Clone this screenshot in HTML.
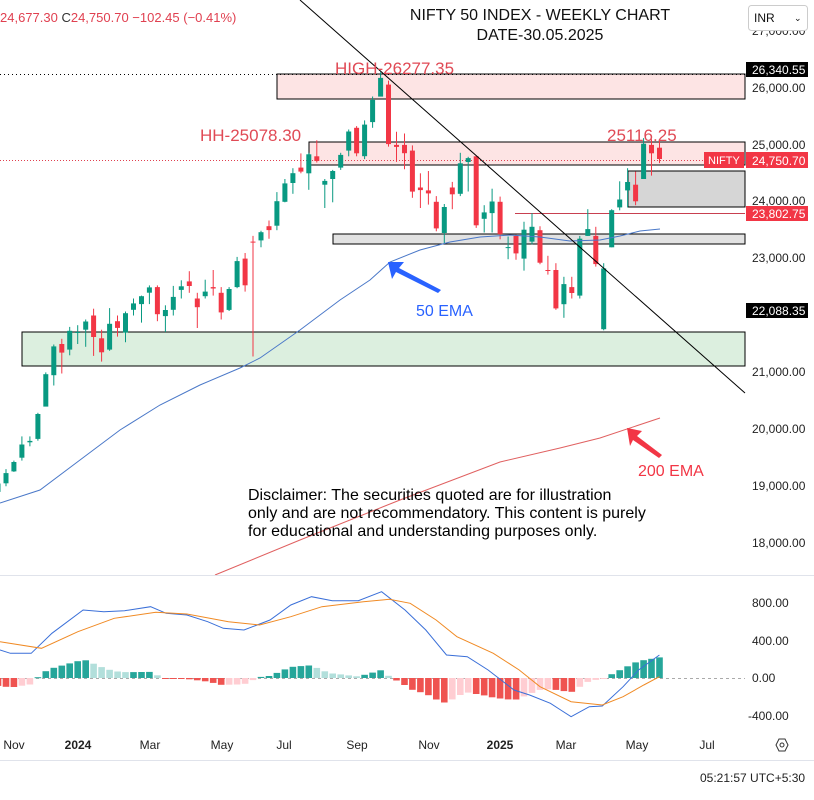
<!DOCTYPE html>
<html><head><meta charset="utf-8"><style>
body{margin:0;background:#fff;}
svg text{font-family:"Liberation Sans",sans-serif;}
</style></head><body>
<svg id="s" width="814" height="795" xmlns="http://www.w3.org/2000/svg">
<rect width="814" height="795" fill="#fff"/>
<g id="zones">
<rect x="277" y="74" width="468" height="25" fill="#fde4e4" stroke="#000" stroke-width="1"/>
<rect x="309" y="142" width="436" height="23" fill="#fde4e4" stroke="#000" stroke-width="1"/>
<rect x="628" y="171" width="117" height="36" fill="#d6d6d6" stroke="#000" stroke-width="1"/>
<rect x="333" y="234" width="412" height="10" fill="#e2e2e2" stroke="#000" stroke-width="1"/>
<rect x="22" y="332" width="723" height="34" fill="#dcefdf" stroke="#000" stroke-width="1"/>
<line x1="0" y1="74.5" x2="745" y2="74.5" stroke="#000" stroke-dasharray="1,3"/>
<line x1="0" y1="160.5" x2="745" y2="160.5" stroke="#e04050" stroke-dasharray="1,2"/>
<line x1="515" y1="213.5" x2="745" y2="213.5" stroke="#c84050" stroke-width="1"/>
</g>
<g id="c"></g>
<polyline fill="none" stroke="#4a78c8" stroke-width="1" points="0,503 40,490 80,460 120,430 160,405 200,385 240,368 260,358 300,330 340,300 370,280 390,262 420,250 450,242 480,237 510,235 540,237 570,241 600,240 620,236 640,231 660,229"/>
<polyline fill="none" stroke="#e06060" stroke-width="1" points="215,575 300,540 400,500 500,462 560,448 600,438 660,418"/>
<line x1="300" y1="0" x2="745" y2="393" stroke="#000" stroke-width="1"/>
<polygon points="388,262 404,262 399,268 441,290 438,293 396,272 392,279" fill="#2962ff"/>
<polygon points="627,428 642,431 637,436 662,455 659,458 633,440 630,446" fill="#f23645"/>
<text x="416" y="316" font-size="16" fill="#2962ff">50 EMA</text>
<text x="638" y="476" font-size="16" fill="#f23645">200 EMA</text>
<text x="335" y="74" font-size="17" fill="#e04a55">HIGH-26277.35</text>
<text x="200" y="141" font-size="17" fill="#e04a55">HH-25078.30</text>
<text x="607" y="141" font-size="17" fill="#e04a55">25116.25</text>
<text x="540" y="20" font-size="16" text-anchor="middle" fill="#111">NIFTY 50 INDEX - WEEKLY CHART</text>
<text x="540" y="40" font-size="16" text-anchor="middle" fill="#111">DATE-30.05.2025</text>
<text x="0" y="22" font-size="13" fill="#e04050">24,677.30 <tspan fill="#333">C</tspan>24,750.70 −102.45 (−0.41%)</text>
<text x="248" y="500" font-size="16" fill="#000">Disclaimer: The securities quoted are for illustration</text>
<text x="248" y="518" font-size="16" fill="#000">only and are not recommendatory. This content is purely</text>
<text x="248" y="536" font-size="16" fill="#000">for educational and understanding purposes only.</text>
<g font-size="12" fill="#222">
<text x="752" y="35">27,000.00</text>
<text x="752" y="92">26,000.00</text>
<text x="752" y="149">25,000.00</text>
<text x="752" y="205">24,000.00</text>
<text x="752" y="262">23,000.00</text>
<text x="752" y="376">21,000.00</text>
<text x="752" y="433">20,000.00</text>
<text x="752" y="490">19,000.00</text>
<text x="752" y="547">18,000.00</text>
<text x="752" y="607">800.00</text>
<text x="752" y="645">400.00</text>
<text x="752" y="682">0.00</text>
<text x="748" y="720">-400.00</text>
</g>
<rect x="746" y="62" width="62" height="15" fill="#000"/><text x="752" y="74" font-size="12" fill="#fff">26,340.55</text>
<rect x="704" y="152" width="40" height="16" fill="#f23645"/><text x="708" y="164" font-size="11" fill="#fff">NIFTY</text>
<rect x="746" y="152" width="62" height="16" fill="#f23645"/><text x="752" y="165" font-size="12" fill="#fff">24,750.70</text>
<rect x="746" y="206" width="62" height="15" fill="#f23645"/><text x="752" y="218" font-size="12" fill="#fff">23,802.75</text>
<rect x="746" y="303" width="62" height="15" fill="#000"/><text x="752" y="315" font-size="12" fill="#fff">22,088.35</text>
<rect x="748.5" y="5.5" width="59" height="25" rx="3" fill="#fff" stroke="#ccc"/>
<text x="754" y="22" font-size="12" fill="#111">INR</text><text x="794" y="21" font-size="9" fill="#111">⌄</text>
<line x1="0" y1="575.5" x2="814" y2="575.5" stroke="#e0e3eb"/>
<line x1="0" y1="678.5" x2="745" y2="678.5" stroke="#aaa" stroke-dasharray="3,3"/>
<g id="h"></g>
<polyline id="mb" fill="none" stroke="#3a6fd8" stroke-width="1"/>
<polyline id="ms" fill="none" stroke="#f08a24" stroke-width="1"/>
<line x1="0" y1="760.5" x2="814" y2="760.5" stroke="#e0e3eb"/>
<g font-size="12" fill="#222">
<text x="14" y="749" text-anchor="middle">Nov</text>
<text x="78" y="749" text-anchor="middle" font-weight="bold">2024</text>
<text x="150" y="749" text-anchor="middle">Mar</text>
<text x="222" y="749" text-anchor="middle">May</text>
<text x="284" y="749" text-anchor="middle">Jul</text>
<text x="357" y="749" text-anchor="middle">Sep</text>
<text x="429" y="749" text-anchor="middle">Nov</text>
<text x="500" y="749" text-anchor="middle" font-weight="bold">2025</text>
<text x="566" y="749" text-anchor="middle">Mar</text>
<text x="637" y="749" text-anchor="middle">May</text>
<text x="707" y="749" text-anchor="middle">Jul</text>
<text x="700" y="782">05:21:57 UTC+5:30</text>
</g>
<polygon points="781,739 785,739 788,745 785,751 779,751 776,745 779,739" fill="none" stroke="#333"/>
<circle cx="782" cy="745" r="2" fill="none" stroke="#333"/>
</svg>
<script>
var D=[[18900,19100,18837,19047],[19050,19300,19000,19230],[19260,19450,19250,19425],[19500,19875,19450,19732],[19770,19875,19700,19795],[19830,20290,19800,20268],[20400,21000,20400,20969],[20950,21490,20770,21457],[21500,21590,20980,21349],[21400,21800,21300,21731],[21700,21830,21500,21711],[21750,21930,21450,21895],[22000,22120,21290,21622],[21600,21750,21190,21353],[21400,22130,21380,21854],[21900,22000,21630,21783],[21700,22070,21530,22041],[22100,22300,22000,22213],[22200,22350,21875,22339],[22400,22530,22200,22494],[22500,22530,21900,22023],[21990,22180,21710,22097],[22100,22520,22000,22327],[22450,22620,22300,22514],[22600,22780,22400,22519],[22300,22400,21780,22147],[22340,22630,22300,22420],[22500,22800,22350,22476],[22400,22500,21930,22055],[22100,22500,22080,22467],[22500,23030,22480,22957],[23000,23100,22420,22531],[23300,23400,21280,23290],[23320,23490,23200,23465],[23570,23670,23350,23501],[23580,24170,23500,24010],[24000,24400,23990,24323],[24330,24590,24140,24502],[24600,24850,24500,24530],[24500,24860,24210,24834],[24800,25080,24690,24717],[24300,24400,23890,24367],[24400,24560,23990,24541],[24600,24860,24560,24823],[24900,25270,24800,25235],[25300,25330,24800,24852],[24800,25430,24750,25356],[25400,25850,25300,25790],[25850,26277,25850,26178],[26060,26130,24970,25014],[25000,25230,24700,24964],[25000,25200,24570,24854],[24900,24990,24070,24180],[24250,24500,23890,24205],[24200,24540,23950,24148],[24000,24100,23480,23532],[23450,23960,23260,23907],[24250,24350,23870,24131],[24140,24860,24100,24677],[24700,24790,24180,24768],[24800,24800,23540,23587],[23700,23940,23460,23813],[23800,24230,23460,24004],[24000,24090,23340,23432],[23200,23390,22990,23203],[23400,23420,22980,23092],[23000,23650,22790,23508],[23300,23800,23250,23560],[23500,23570,22900,22929],[22800,23050,22720,22796],[22800,22920,22100,22125],[22200,22680,21960,22553],[22500,22680,22300,22397],[22350,23400,22300,23350],[23400,23870,23400,23519],[23400,23560,22860,22904],[21760,22920,21740,22829],[23200,23870,23200,23852],[23900,24360,23850,24039],[24200,24590,23900,24347],[24300,24530,23940,24008],[24400,25120,24400,25020],[25000,25100,24460,24853],[24950,25080,24680,24751]];
function Y(p){return 88+(26000-p)*0.05688;}
var g='';
D.forEach(function(d,i){var x=-2+i*7.97,o=d[0],h=d[1],l=d[2],c=d[3];var col=c>=o?'#089981':'#f23645';
var t=Y(Math.max(o,c)),b=Y(Math.min(o,c));if(b-t<1)b=t+1;
g+='<line x1="'+x.toFixed(1)+'" y1="'+Y(h).toFixed(1)+'" x2="'+x.toFixed(1)+'" y2="'+Y(l).toFixed(1)+'" stroke="'+col+'"/>';
g+='<rect x="'+(x-2.5).toFixed(1)+'" y="'+t.toFixed(1)+'" width="5" height="'+(b-t).toFixed(1)+'" fill="'+col+'"/>';});
document.getElementById('c').innerHTML=g;
var k=1.926;
var B=[[0,240],[20,250],[60,250],[100,190],[160,120],[200,125],[240,122],[290,110],[320,130],[360,135],[400,155],[430,175],[470,180],[520,150],[560,105],[600,80],[640,92],[690,92],[735,65],[780,120],[820,180],[860,255],[900,260],[940,300],[990,360],[1020,375],[1060,400],[1080,420],[1100,440],[1135,410],[1160,408],[1200,350],[1230,300],[1270,255]];
var S=[[0,215],[80,235],[150,185],[220,145],[300,127],[360,132],[440,155],[500,165],[560,140],[620,110],[700,95],[750,88],[790,100],[840,150],[880,200],[950,250],[1000,300],[1040,350],[1100,395],[1160,405],[1200,380],[1240,345],[1270,320]];
function T(a){return a.map(function(p){return [p[0]/k,p[1]/3+570];});}
B=T(B);S=T(S);
document.getElementById('mb').setAttribute('points',B.map(function(p){return p[0].toFixed(1)+','+p[1].toFixed(1)}).join(' '));
document.getElementById('ms').setAttribute('points',S.map(function(p){return p[0].toFixed(1)+','+p[1].toFixed(1)}).join(' '));
function I(a,x){if(x<=a[0][0])return a[0][1];for(var i=1;i<a.length;i++){if(x<=a[i][0]){var f=(x-a[i-1][0])/(a[i][0]-a[i-1][0]);return a[i-1][1]+f*(a[i][1]-a[i-1][1]);}}return a[a.length-1][1];}
var hg='',prev=0;
for(var i=0;i<84;i++){var x=-2+i*7.97;var v=(I(S,x)-I(B,x))*0.95;var col;
if(v>=0)col=v>=prev?'#26a69a':'#b2dfdb';else col=v<=prev?'#ef5350':'#ffcdd2';prev=v;
var y0=678,y1=678-v;hg+='<rect x="'+(x-3.3).toFixed(1)+'" y="'+Math.min(y0,y1).toFixed(1)+'" width="6.6" height="'+Math.max(1,Math.abs(v)).toFixed(1)+'" fill="'+col+'"/>';}
document.getElementById('h').innerHTML=hg;
</script>
</body></html>
